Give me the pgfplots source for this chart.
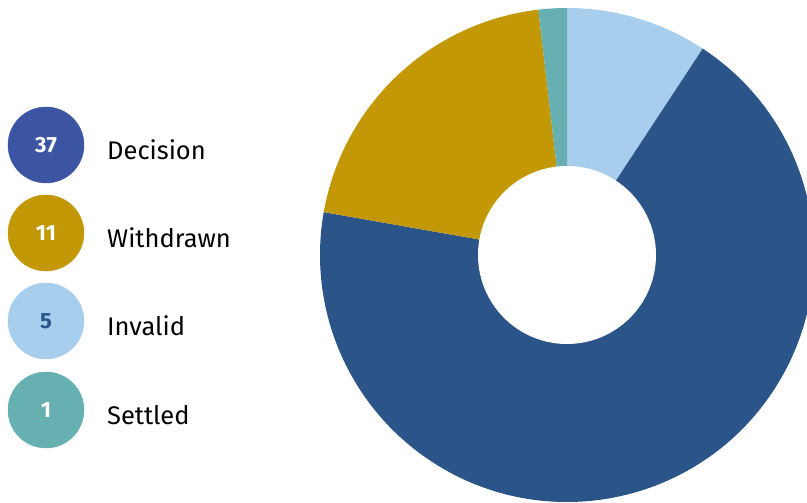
\documentclass[border=0pt]{standalone}
\usepackage{pgfplots}
\usepackage{pgfplotstable}
\pgfplotsset{compat=1.18}
\usepackage{fontspec}
\setmainfont{Fira Sans}
\definecolor{cDec}{RGB}{43,84,137}
\definecolor{cDecL}{RGB}{59,85,163}
\definecolor{cWit}{RGB}{195,152,6}
\definecolor{cInv}{RGB}{168,206,238}
\definecolor{cSet}{RGB}{102,176,178}
\pgfplotstableread{
label value
Invalid 5
Decision 37
Withdrawn 11
Settled 1
}\piedata
\begin{document}
\begin{tikzpicture}
\pgfplotstablegetelem{0}{value}\of\piedata\let\va\pgfplotsretval
\pgfplotstablegetelem{1}{value}\of\piedata\let\vb\pgfplotsretval
\pgfplotstablegetelem{2}{value}\of\piedata\let\vc\pgfplotsretval
\pgfplotstablegetelem{3}{value}\of\piedata\let\vd\pgfplotsretval
\pgfmathsetmacro\tot{\va+\vb+\vc+\vd}
\pgfmathsetmacro\aA{90}
\pgfmathsetmacro\aB{\aA-360*\va/\tot}
\pgfmathsetmacro\aC{\aB-360*\vb/\tot}
\pgfmathsetmacro\aD{\aC-360*\vc/\tot}
\pgfmathsetmacro\aE{\aD-360*\vd/\tot}
\begin{axis}[
  x=1pt, y=1pt, xmin=0, xmax=807, ymin=0, ymax=503,
  hide axis, clip=true, anchor=south west, at={(0,0)},
  nodes near coords={\pgfplotspointmeta},
  point meta=explicit symbolic,
  every node near coord/.append style={anchor=center, font=\bfseries\fontsize{22}{22}\selectfont, text=white},
]
% donut wedges
\fill[cInv] (axis cs:567,248) -- ++(\aA:247pt) arc[start angle=\aA, end angle=\aB, radius=247pt] -- cycle;
\fill[cDec] (axis cs:567,248) -- ++(\aB:247pt) arc[start angle=\aB, end angle=\aC, radius=247pt] -- cycle;
\fill[cWit] (axis cs:567,248) -- ++(\aC:247pt) arc[start angle=\aC, end angle=\aD, radius=247pt] -- cycle;
\fill[cSet] (axis cs:567,248) -- ++(\aD:247pt) arc[start angle=\aD, end angle=\aE, radius=247pt] -- cycle;
\fill[white] (axis cs:567,248) circle[radius=89pt];
% legend circles
\addplot[only marks, mark=*, mark size=38pt, color=cDecL] coordinates {(46,358) [37]};
\addplot[only marks, mark=*, mark size=38pt, color=cWit] coordinates {(46,270) [11]};
\addplot[only marks, mark=*, mark size=38pt, color=cInv, every node near coord/.append style={text=cDec}] coordinates {(46,182) [5]};
\addplot[only marks, mark=*, mark size=38pt, color=cSet] coordinates {(46,93) [1]};
\node[anchor=west, font=\fontsize{25.5}{25.5}\selectfont, inner sep=0pt] at (axis cs:107,353) {Decision};
\node[anchor=west, font=\fontsize{25.5}{25.5}\selectfont, inner sep=0pt] at (axis cs:107,265) {Withdrawn};
\node[anchor=west, font=\fontsize{25.5}{25.5}\selectfont, inner sep=0pt] at (axis cs:107,177) {Invalid};
\node[anchor=west, font=\fontsize{25.5}{25.5}\selectfont, inner sep=0pt] at (axis cs:107,88) {Settled};
\end{axis}
\pgfresetboundingbox
\useasboundingbox (0,0) rectangle (807pt,503pt);
\end{tikzpicture}
\end{document}
